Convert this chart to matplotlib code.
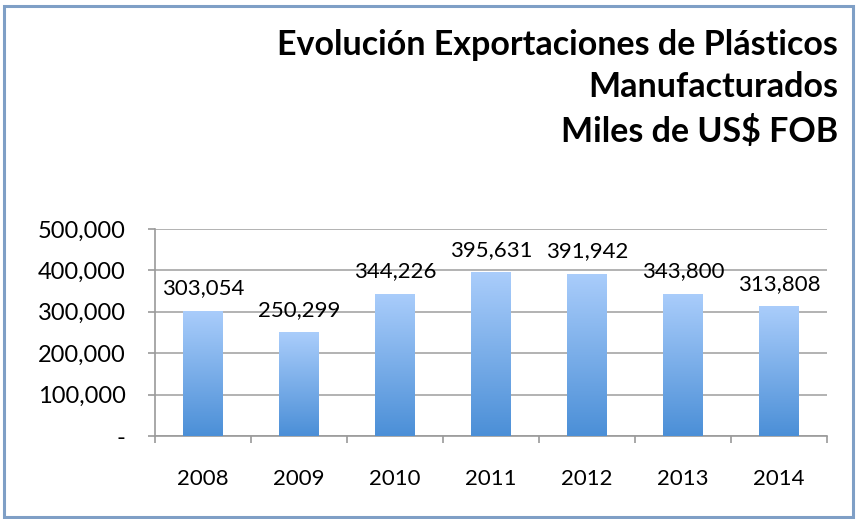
import numpy as np
from matplotlib import pyplot as plt
from matplotlib.colors import LinearSegmentedColormap
from matplotlib.patches import Rectangle

plt.rcParams['font.family'] = ['Lato', 'DejaVu Sans']

years = ['2008', '2009', '2010', '2011', '2012', '2013', '2014']
values = [303054, 250299, 344226, 395631, 391942, 343800, 313808]
yticks = [0, 100000, 200000, 300000, 400000, 500000]
ytick_labels = ['-', '100,000', '200,000', '300,000', '400,000', '500,000']
title = 'Evolución Exportaciones de Plásticos\nManufacturados\nMiles de US$ FOB'

fig = plt.figure(figsize=(8.56, 5.19), dpi=100)
ax = fig.add_axes([0.1811, 0.1599, 0.785, 0.3988])

x = np.arange(len(years))
bars = ax.bar(x, values, width=0.41, color='none', zorder=3)

# degradado vertical dentro de cada barra
cmap = LinearSegmentedColormap.from_list('barras', ['#4b8fd7', '#aacdfb'])
grad = np.linspace(0, 1, 256).reshape(-1, 1)
for b in bars:
    x0, y0 = b.get_x(), b.get_y()
    im = ax.imshow(grad, cmap=cmap, origin='lower', aspect='auto',
                   extent=[x0, x0 + b.get_width(), y0, y0 + b.get_height()],
                   zorder=3)
    im.set_clip_path(b)

for xi, v in zip(x, values):
    ax.annotate(f'{v:,}', (xi, v), xytext=(0, 9), textcoords='offset points',
                ha='center', va='bottom', fontsize=16, color='#000000', zorder=4)

ax.set_xlim(-0.5, len(years) - 0.5)
ax.set_ylim(0, 500000)
ax.set_xticks(x)
ax.set_xticklabels(years, fontsize=16, color='#000000')
ax.set_xticks(np.arange(len(years) + 1) - 0.5, minor=True)
ax.tick_params(axis='x', which='major', length=0, pad=24)
ax.tick_params(axis='x', which='minor', length=5, width=1.2, color='#9a9a9a')
ax.set_yticks(yticks)
ax.set_yticklabels(ytick_labels, fontsize=17, color='#000000')
ax.tick_params(axis='y', length=5, width=1.2, color='#9a9a9a', pad=16)

ax.grid(axis='y', color='#a6a6a6', linewidth=1.2, zorder=0)
ax.set_axisbelow(True)
for s in ['top', 'right']:
    ax.spines[s].set_visible(False)
for s in ['left', 'bottom']:
    ax.spines[s].set_color('#9a9a9a')
    ax.spines[s].set_linewidth(1.2)

fig.text(0.979, 0.945, title, ha='right', va='top', fontsize=24.5,
         fontweight='bold', linespacing=1.42, color='#000000')

fig.patches.append(Rectangle((0.0045, 0.004), 0.992, 0.984, transform=fig.transFigure,
                             fill=False, edgecolor='#7f9fc6', linewidth=2.2))

fig.savefig('out.png', dpi=100)
